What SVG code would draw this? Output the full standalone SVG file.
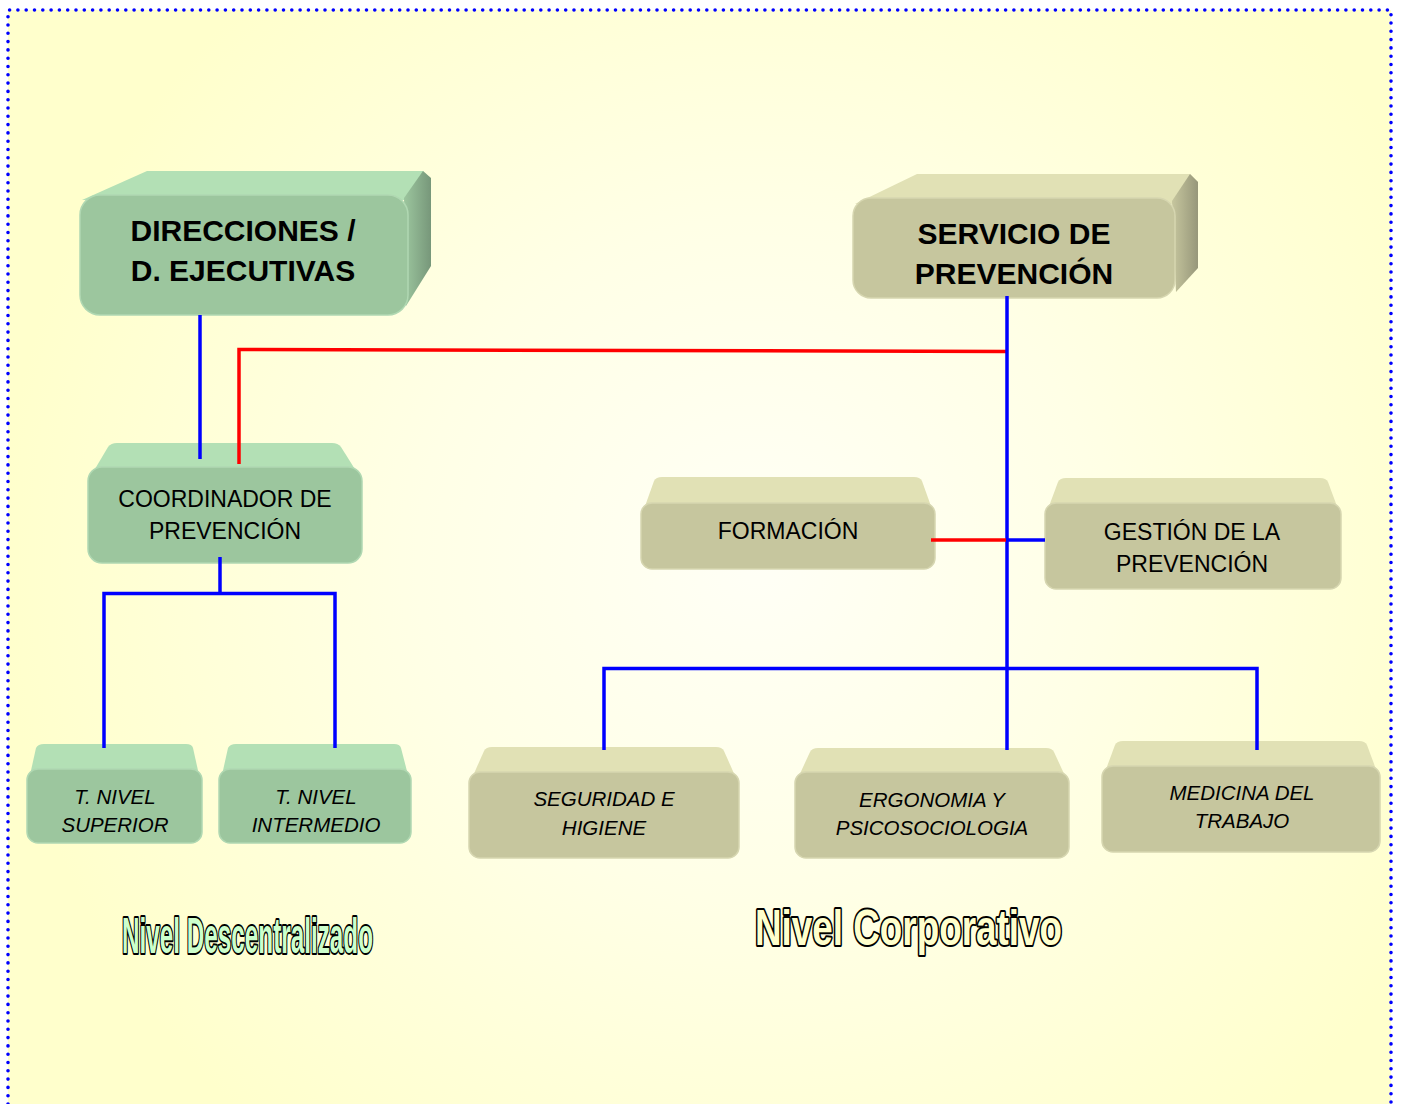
<svg xmlns="http://www.w3.org/2000/svg" width="1403" height="1104" viewBox="0 0 1403 1104">
<defs>
<radialGradient id="bg" cx="760" cy="560" r="760" gradientUnits="userSpaceOnUse">
<stop offset="0" stop-color="#FFFFF6"/>
<stop offset="0.45" stop-color="#FFFFE6"/>
<stop offset="1" stop-color="#FFFFCC"/>
</radialGradient>
<linearGradient id="gside" x1="0" y1="0" x2="1" y2="0">
<stop offset="0" stop-color="#9CC69E"/>
<stop offset="1" stop-color="#77977A"/>
</linearGradient>
<linearGradient id="tside" x1="0" y1="0" x2="1" y2="0">
<stop offset="0" stop-color="#C6C69E"/>
<stop offset="1" stop-color="#97977A"/>
</linearGradient>
<style>
.gf{fill:#9CC69E;stroke:#B0D8B2;stroke-width:1.5}
.gt{fill:#B3E0B5}
.tf{fill:#C6C69E;stroke:#D6D6B0;stroke-width:1.5}
.tt{fill:#E1E1B5}
.big{font-family:"Liberation Sans",Arial,sans-serif;font-weight:bold;font-size:30px;fill:#000;text-anchor:middle}
.reg{font-family:"Liberation Sans",Arial,sans-serif;font-size:23px;fill:#000;text-anchor:middle}
.it{font-family:"Liberation Sans",Arial,sans-serif;font-style:italic;font-size:20.5px;fill:#000;text-anchor:middle}
.lbl{font-family:"Liberation Sans",Arial,sans-serif;font-weight:bold;font-size:50px;stroke:#000000;stroke-width:4;stroke-linejoin:round;paint-order:stroke fill}
.blue{stroke:#0000FF;stroke-width:3.5;fill:none}
.red{stroke:#FF0000;stroke-width:3.5;fill:none}
</style>
</defs>
<rect x="0" y="0" width="1403" height="1104" fill="#FFFFFF"/>
<rect x="8" y="10" width="1383" height="1110" fill="url(#bg)"/>
<path d="M8,1104 L8,10 L1391,10 L1391,1104" fill="none" stroke="#0000FF" stroke-width="3.6" stroke-linecap="round" stroke-dasharray="0 8.3"/>

<g id="direcciones">
<polygon class="gt" points="82,200 147,171 423,171 431,180 407,200"/>
<polygon fill="url(#gside)" points="404,198 423,171 431,178 431,266 406,306"/>
<rect class="gf" x="80" y="195" width="328" height="120" rx="20"/>
<text class="big" x="243" y="241">DIRECCIONES /</text>
<text class="big" x="243" y="281">D. EJECUTIVAS</text>
</g>

<g id="servicio">
<polygon class="tt" points="855,204 917,174 1190,174 1198,182 1175,204"/>
<polygon fill="url(#tside)" points="1172,201 1190,174 1198,182 1198,268 1176,292"/>
<rect class="tf" x="853" y="198" width="322" height="100" rx="18"/>
<text class="big" x="1014" y="244">SERVICIO DE</text>
<text class="big" x="1014" y="284">PREVENCIÓN</text>
</g>

<g id="coordinador">
<path class="gt" d="M92,474 L108,447 Q111,443 117,443 L332,443 Q338,443 341,447 L358,474 Z"/>
<rect class="gf" x="88" y="467" width="274" height="96" rx="14"/>
<text class="reg" x="225" y="507">COORDINADOR DE</text>
<text class="reg" x="225" y="539">PREVENCIÓN</text>
</g>

<g id="t-nivel-superior">
<path class="gt" d="M30,775 L36,748 Q38,744 44,744 L186,744 Q192,744 193,748 L199,775 Z"/>
<rect class="gf" x="27" y="769" width="175" height="74" rx="11"/>
<text class="it" x="115" y="804">T. NIVEL</text>
<text class="it" x="115" y="832">SUPERIOR</text>
</g>

<g id="t-nivel-intermedio">
<path class="gt" d="M222,775 L228,748 Q230,744 236,744 L394,744 Q400,744 401,748 L408,775 Z"/>
<rect class="gf" x="219" y="769" width="192" height="74" rx="11"/>
<text class="it" x="316" y="804">T. NIVEL</text>
<text class="it" x="316" y="832">INTERMEDIO</text>
</g>

<g id="formacion">
<path class="tt" d="M644,509 L654,481 Q656,477 662,477 L914,477 Q920,477 922,481 L932,509 Z"/>
<rect class="tf" x="641" y="503" width="294" height="66" rx="11"/>
<text class="reg" x="788" y="539">FORMACIÓN</text>
</g>

<g id="gestion">
<path class="tt" d="M1048,509 L1058,482 Q1060,478 1066,478 L1320,478 Q1326,478 1328,482 L1338,509 Z"/>
<rect class="tf" x="1045" y="503" width="296" height="86" rx="11"/>
<text class="reg" x="1192" y="540">GESTIÓN DE LA</text>
<text class="reg" x="1192" y="572">PREVENCIÓN</text>
</g>

<g id="seguridad">
<path class="tt" d="M472,778 L484,751 Q486,747 492,747 L716,747 Q722,747 724,751 L736,778 Z"/>
<rect class="tf" x="469" y="772" width="270" height="86" rx="11"/>
<text class="it" x="604" y="806">SEGURIDAD E</text>
<text class="it" x="604" y="835">HIGIENE</text>
</g>

<g id="ergonomia">
<path class="tt" d="M798,778 L810,752 Q812,748 818,748 L1046,748 Q1052,748 1054,752 L1066,778 Z"/>
<rect class="tf" x="795" y="772" width="274" height="86" rx="11"/>
<text class="it" x="932" y="807">ERGONOMIA Y</text>
<text class="it" x="932" y="835">PSICOSOCIOLOGIA</text>
</g>

<g id="medicina">
<path class="tt" d="M1105,772 L1115,745 Q1117,741 1123,741 L1359,741 Q1365,741 1367,745 L1377,772 Z"/>
<rect class="tf" x="1102" y="766" width="278" height="86" rx="11"/>
<text class="it" x="1242" y="800">MEDICINA DEL</text>
<text class="it" x="1242" y="828">TRABAJO</text>
</g>

<g id="connectors">
<path class="blue" d="M200,315 L200,459"/>
<path class="red" d="M239,464 L239,349.5 L1006,351.5"/>
<path class="blue" d="M1007,296 L1007,750"/>
<path class="red" d="M931,540 L1006,540"/>
<path class="blue" d="M1006,540 L1045,540"/>
<path class="blue" d="M604,750 L604,668.5 L1257,668.5 L1257,750"/>
<path class="blue" d="M220,557 L220,593"/>
<path class="blue" d="M104,748 L104,593.5 L335,593.5 L335,748"/>
</g>

<g id="labels">
<text class="lbl" x="122" y="953" fill="#CCFFCC" textLength="251" lengthAdjust="spacingAndGlyphs">Nivel Descentralizado</text>
<text class="lbl" x="755" y="945" fill="#FFFFCC" textLength="307" lengthAdjust="spacingAndGlyphs">Nivel Corporativo</text>
</g>
</svg>
